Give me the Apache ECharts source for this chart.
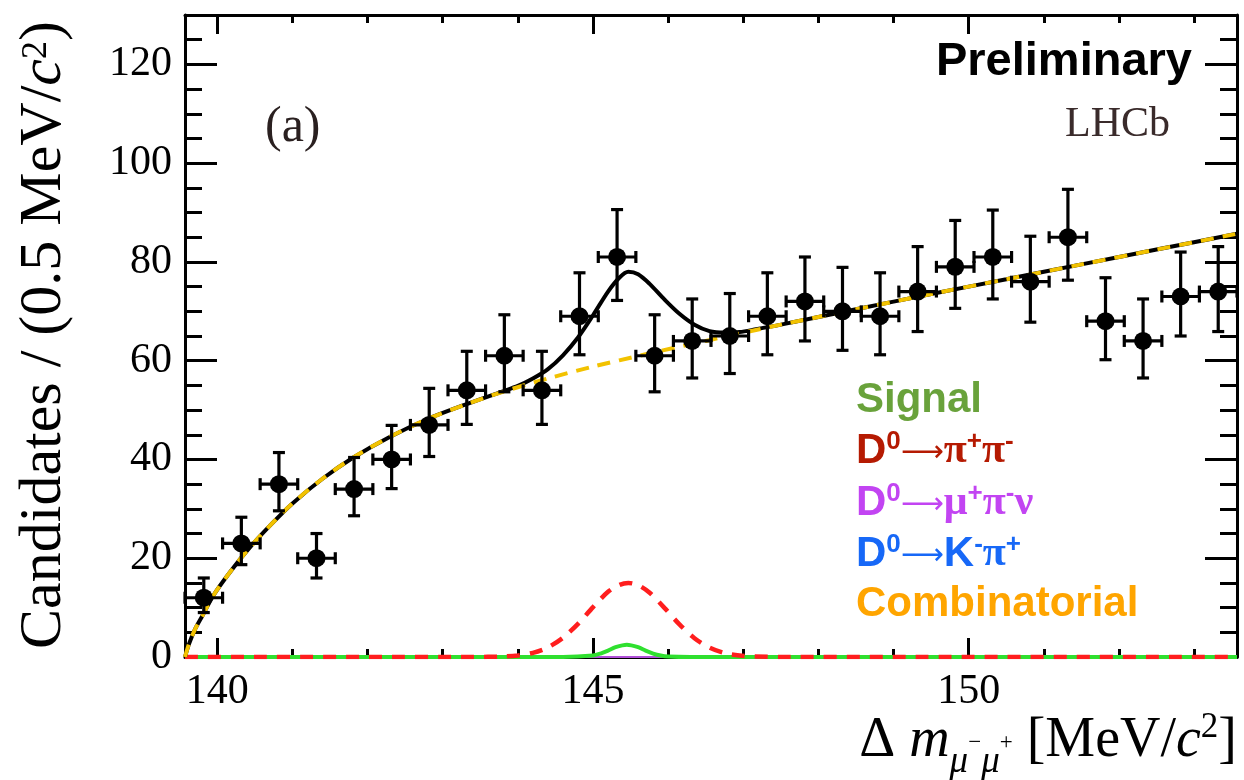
<!DOCTYPE html>
<html>
<head>
<meta charset="utf-8">
<script src="https://cdn.jsdelivr.net/npm/echarts@6.0.0/dist/echarts.min.js"></script>
<style>
html,body{margin:0;padding:0;background:#fff;}
#chart{width:1244px;height:780px;}
</style>
</head>
<body>
<div id="chart"></div>
<script>
// ---------- data ----------
const xRange = [139.57, 153.57];
const yRange = [0, 130];
const xMajorTicks = [140, 145, 150];
const xMinorTicks = [140, 141, 142, 143, 144, 145, 146, 147, 148, 149, 150, 151, 152, 153];
const yMajorTicks = [0, 20, 40, 60, 80, 100, 120];
const yMinorTicks = [0, 5, 10, 15, 20, 25, 30, 35, 40, 45, 50, 55, 60, 65, 70, 75, 80, 85, 90, 95, 100, 105, 110, 115, 120, 125];

const binCenters = [139.82, 140.32, 140.82, 141.32, 141.82, 142.32, 142.82, 143.32, 143.82, 144.32,
  144.82, 145.32, 145.82, 146.32, 146.82, 147.32, 147.82, 148.32, 148.82, 149.32,
  149.82, 150.32, 150.82, 151.32, 151.82, 152.32, 152.82, 153.32];
const binHalfWidth = 0.25;
const counts = [12, 23, 35, 20, 34, 40, 47, 54, 61, 54,
  69, 81, 61, 64, 65, 69, 72, 70, 69, 74,
  79, 81, 76, 85, 68, 64, 73, 74];
const errHigh = [4.0, 5.3, 6.4, 5.0, 6.4, 6.9, 7.4, 7.9, 8.3, 7.9,
  8.8, 9.6, 8.3, 8.5, 8.6, 8.8, 9.0, 8.9, 8.8, 9.1,
  9.4, 9.5, 9.2, 9.7, 8.8, 8.5, 9.0, 9.1];
const errLow = [3.0, 4.3, 5.4, 4.0, 5.4, 5.9, 6.4, 6.9, 7.3, 6.9,
  7.8, 8.8, 7.3, 7.5, 7.6, 7.8, 8.0, 7.9, 7.8, 8.1,
  8.4, 8.5, 8.2, 8.7, 7.8, 7.5, 8.0, 8.1];

// combinatorial background (yellow dashed)
const combX = [139.57, 139.62, 139.70, 139.80, 139.95, 140.15, 140.40, 140.70, 141.00, 141.40,
  141.80, 142.30, 142.80, 143.30, 143.80, 144.40, 145.00, 145.70, 146.50, 147.50,
  148.50, 149.50, 150.50, 151.50, 152.50, 153.57];
const combY = [0, 2.5, 5.5, 8.3, 12.5, 16.8, 21.6, 26.6, 31.1, 36.1,
  40.3, 44.6, 48.2, 51.1, 53.7, 56.4, 58.8, 61.3, 64.0, 67.3,
  70.4, 73.5, 76.5, 79.5, 82.5, 85.7];
// total fit (black solid)
const totalX = [139.57, 139.62, 139.70, 139.80, 139.95, 140.15, 140.40, 140.70, 141.00, 141.40,
  141.80, 142.30, 142.80, 143.30, 143.80, 144.00, 144.20, 144.40, 144.60, 144.80,
  145.00, 145.20, 145.35, 145.47, 145.60, 145.75, 145.95, 146.15, 146.35, 146.55,
  146.75, 146.95, 147.15, 147.50, 148.50, 149.50, 150.50, 151.50, 152.50, 153.57];
const totalY = [0, 2.5, 5.5, 8.3, 12.5, 16.8, 21.6, 26.6, 31.1, 36.1,
  40.3, 44.6, 48.2, 51.1, 53.8, 54.9, 56.4, 58.3, 61.1, 64.7,
  69.2, 74.0, 76.8, 78.0, 77.5, 75.6, 72.4, 69.5, 67.3, 66.0,
  65.7, 65.8, 66.3, 67.3, 70.4, 73.5, 76.5, 79.5, 82.5, 85.7];
// D0 -> pi+ pi- (red dashed)
const pipiX = [139.57, 142.00, 143.40, 143.80, 144.00, 144.20, 144.40, 144.60, 144.80, 145.00,
  145.20, 145.35, 145.47, 145.60, 145.75, 145.95, 146.15, 146.35, 146.55, 146.75,
  146.95, 147.15, 147.50, 149.00, 153.57];
const pipiY = [0, 0, 0, 0.1, 0.3, 0.85, 1.95, 3.9, 6.7, 10.1,
  13.2, 14.6, 15.0, 14.55, 13.05, 9.95, 6.6, 3.8, 1.9, 0.8,
  0.3, 0.1, 0, 0, 0];
// signal (green)
const sigX = [139.57, 143.00, 144.60, 145.00, 145.10, 145.20, 145.30, 145.45, 145.60, 145.70,
  145.80, 145.90, 146.00, 146.30, 148.00, 153.57];
const sigY = [0, 0, 0, 0.3, 0.7, 1.3, 2.0, 2.5, 2.0, 1.3,
  0.7, 0.3, 0.1, 0, 0, 0];
// D0 -> mu+ pi- nu (purple) and D0 -> K- pi+ (blue): flat at zero
const mupinuX = [139.57, 153.57];
const mupinuY = [0, 0];
const kpiX = [139.57, 153.57];
const kpiY = [0, 0];

// ---------- build ----------
const pairs = (xs, ys) => xs.map((x, i) => [x, ys[i]]);
const points = binCenters.map((x, i) => [x, counts[i], errLow[i], errHigh[i]]);

const serif = '"Liberation Serif", "Times New Roman", serif';
const sans = '"Liberation Sans", Arial, sans-serif';

function axisBase(pos, isX) {
  return {
    type: 'value', position: pos,
    min: isX ? xRange[0] : yRange[0], max: isX ? xRange[1] : yRange[1],
    splitLine: { show: false },
    axisLine: { show: false, onZero: false },
    axisLabel: { show: false },
    axisTick: { show: false }
  };
}
function majorX(pos, labels) {
  const a = axisBase(pos, true);
  a.axisLine = { show: true, onZero: false, lineStyle: { color: '#000', width: 3 } };
  a.axisTick = { show: true, inside: true, length: 19, customValues: xMajorTicks, lineStyle: { color: '#000', width: 3 } };
  if (labels) a.axisLabel = { show: true, customValues: xMajorTicks, color: '#000', fontFamily: serif, fontSize: 42, margin: 14 };
  return a;
}
function minorX(pos) {
  const a = axisBase(pos, true);
  a.axisTick = { show: true, inside: true, length: 8, customValues: xMinorTicks, lineStyle: { color: '#000', width: 3 } };
  return a;
}
function majorY(pos, labels) {
  const a = axisBase(pos, false);
  a.axisLine = { show: true, onZero: false, lineStyle: { color: '#000', width: 3 } };
  a.axisTick = { show: true, inside: true, length: 32, customValues: yMajorTicks, lineStyle: { color: '#000', width: 3 } };
  if (labels) a.axisLabel = { show: true, customValues: yMajorTicks, color: '#000', fontFamily: serif, fontSize: 42, margin: 13 };
  return a;
}
function minorY(pos) {
  const a = axisBase(pos, false);
  a.axisTick = { show: true, inside: true, length: 17, customValues: yMinorTicks, lineStyle: { color: '#000', width: 3 } };
  return a;
}

function lineSeries(name, data, color, width, type, z) {
  return {
    name, type: 'line', data, xAxisIndex: 0, yAxisIndex: 0,
    showSymbol: false, symbol: 'none', smooth: 0.3,
    lineStyle: { color, width, type, cap: 'butt' }, z, silent: true, clip: true
  };
}

const legendLines = [
  { y: 400, color: '#69a23b', text: '{b|Signal}' },
  { y: 451, color: '#b51a02', text: '{b|D}{s|0}{a|\u27f6}{g|\u03c0}{s|+}{g|\u03c0}{s|-}' },
  { y: 503, color: '#c244f2', text: '{b|D}{s|0}{a|\u27f6}{g|\u03bc}{s|+}{g|\u03c0}{s|-}{g|\u03bd}' },
  { y: 554, color: '#1768f7', text: '{b|D}{s|0}{a|\u27f6}{b|K}{s|-}{g|\u03c0}{s|+}' },
  { y: 604, color: '#ffa500', text: '{b|Combinatorial}' }
];

const graphics = legendLines.map(l => ({
  type: 'text', x: 856, y: l.y, z: 100,
  style: {
    text: l.text, align: 'left', verticalAlign: 'middle',
    rich: {
      b: { fontFamily: sans, fontWeight: 'bold', fontSize: 42, lineHeight: 60, fill: l.color },
      s: { fontFamily: sans, fontWeight: 'bold', fontSize: 26, lineHeight: 26, padding: [8, 0, 26, 0], fill: l.color },
      a: { fontFamily: '"DejaVu Sans", sans-serif', fontWeight: 'normal', fontSize: 30, lineHeight: 60, padding: [4, 0, 0, 0], fill: l.color },
      g: { fontFamily: serif, fontWeight: 'bold', fontSize: 42, lineHeight: 60, fill: l.color }
    }
  }
}));

graphics.push(
  { type: 'text', x: 1192, y: 62, z: 100,
    style: { text: 'Preliminary', align: 'right', verticalAlign: 'middle', fontFamily: sans, fontWeight: 'bold', fontSize: 47, fill: '#000' } },
  { type: 'text', x: 1170, y: 125, z: 100,
    style: { text: 'LHCb', align: 'right', verticalAlign: 'middle', fontFamily: serif, fontSize: 42, fill: '#3a2b2b' } },
  { type: 'text', x: 265, y: 128, z: 100,
    style: { text: '(a)', align: 'left', verticalAlign: 'middle', fontFamily: serif, fontSize: 50, fill: '#2a2020' } },
  { type: 'text', x: 44, y: 335, rotation: Math.PI / 2, z: 100,
    style: {
      text: '{n|Candidates / (0.5 MeV/}{i|c}{s|2}{n|)}', align: 'center', verticalAlign: 'middle',
      rich: {
        n: { fontFamily: serif, fontSize: 60, lineHeight: 80, fill: '#000' },
        i: { fontFamily: serif, fontStyle: 'italic', fontSize: 60, lineHeight: 80, fill: '#000' },
        s: { fontFamily: serif, fontSize: 36, lineHeight: 36, padding: [15, 0, 29, 0], fill: '#000' }
      }
    } },
  { type: 'text', x: 1237, y: 741, z: 100,
    style: {
      text: '{n|\u0394 }{i|m}{u|\u03bc}{t|\u2212}{u|\u03bc}{t|+}{n| [MeV/}{i|c}{s|2}{n|]}', align: 'right', verticalAlign: 'middle',
      rich: {
        n: { fontFamily: serif, fontSize: 56, lineHeight: 80, fill: '#000' },
        i: { fontFamily: serif, fontStyle: 'italic', fontSize: 56, lineHeight: 80, fill: '#000' },
        u: { fontFamily: serif, fontStyle: 'italic', fontSize: 37, lineHeight: 37, padding: [43, 0, 0, 0], fill: '#000' },
        t: { fontFamily: serif, fontSize: 23, lineHeight: 23, padding: [30, 0, 27, 0], fill: '#000' },
        s: { fontFamily: serif, fontSize: 35, lineHeight: 35, padding: [9, 0, 36, 0], fill: '#000' }
      }
    } }
);

const option = {
  backgroundColor: '#fff',
  animation: false,
  grid: { left: 185, right: 7, top: 15, bottom: 123, show: false },
  xAxis: [majorX('bottom', true), minorX('bottom'), majorX('top', false), minorX('top')],
  yAxis: [majorY('left', true), minorY('left'), majorY('right', false), minorY('right')],
  graphic: graphics,
  series: [
    lineSeries('D0->K-pi+', pairs(kpiX, kpiY), '#1768f7', 2, [8, 6], 3),
    lineSeries('D0->mu+pi-nu', pairs(mupinuX, mupinuY), '#b04fd8', 2, 'solid', 3),
    lineSeries('Signal', pairs(sigX, sigY), '#2fe02f', 4, 'solid', 4),
    lineSeries('D0->pi+pi-', pairs(pipiX, pipiY), '#ff1e1e', 4.5, [13, 10], 5),
    lineSeries('Total', pairs(totalX, totalY), '#000', 4, 'solid', 6),
    lineSeries('Combinatorial', pairs(combX, combY), '#f2c200', 4, [13, 9], 7),
    {
      name: 'Data', type: 'custom', xAxisIndex: 0, yAxisIndex: 0, z: 10, silent: true,
      data: points,
      renderItem: function (params, api) {
        const x = api.value(0), y = api.value(1), lo = api.value(2), hi = api.value(3);
        const c = api.coord([x, y]);
        const t = api.coord([x, y + hi]);
        const b = api.coord([x, y - lo]);
        const l = api.coord([x - binHalfWidth, y]);
        const r = api.coord([x + binHalfWidth, y]);
        const cap = 6;
        const st = { stroke: '#000', lineWidth: 3.2 };
        const ln = (x1, y1, x2, y2) => ({ type: 'line', shape: { x1, y1, x2, y2 }, style: st });
        return {
          type: 'group',
          children: [
            ln(c[0], t[1], c[0], b[1]),
            ln(c[0] - cap, t[1], c[0] + cap, t[1]),
            ln(c[0] - cap, b[1], c[0] + cap, b[1]),
            ln(l[0], c[1], r[0], c[1]),
            ln(l[0], c[1] - cap, l[0], c[1] + cap),
            ln(r[0], c[1] - cap, r[0], c[1] + cap),
            { type: 'circle', shape: { cx: c[0], cy: c[1], r: 9 }, style: { fill: '#000' } }
          ]
        };
      }
    }
  ]
};

const chart = echarts.init(document.getElementById('chart'), null, { renderer: 'canvas' });
chart.setOption(option);
</script>
</body>
</html>
